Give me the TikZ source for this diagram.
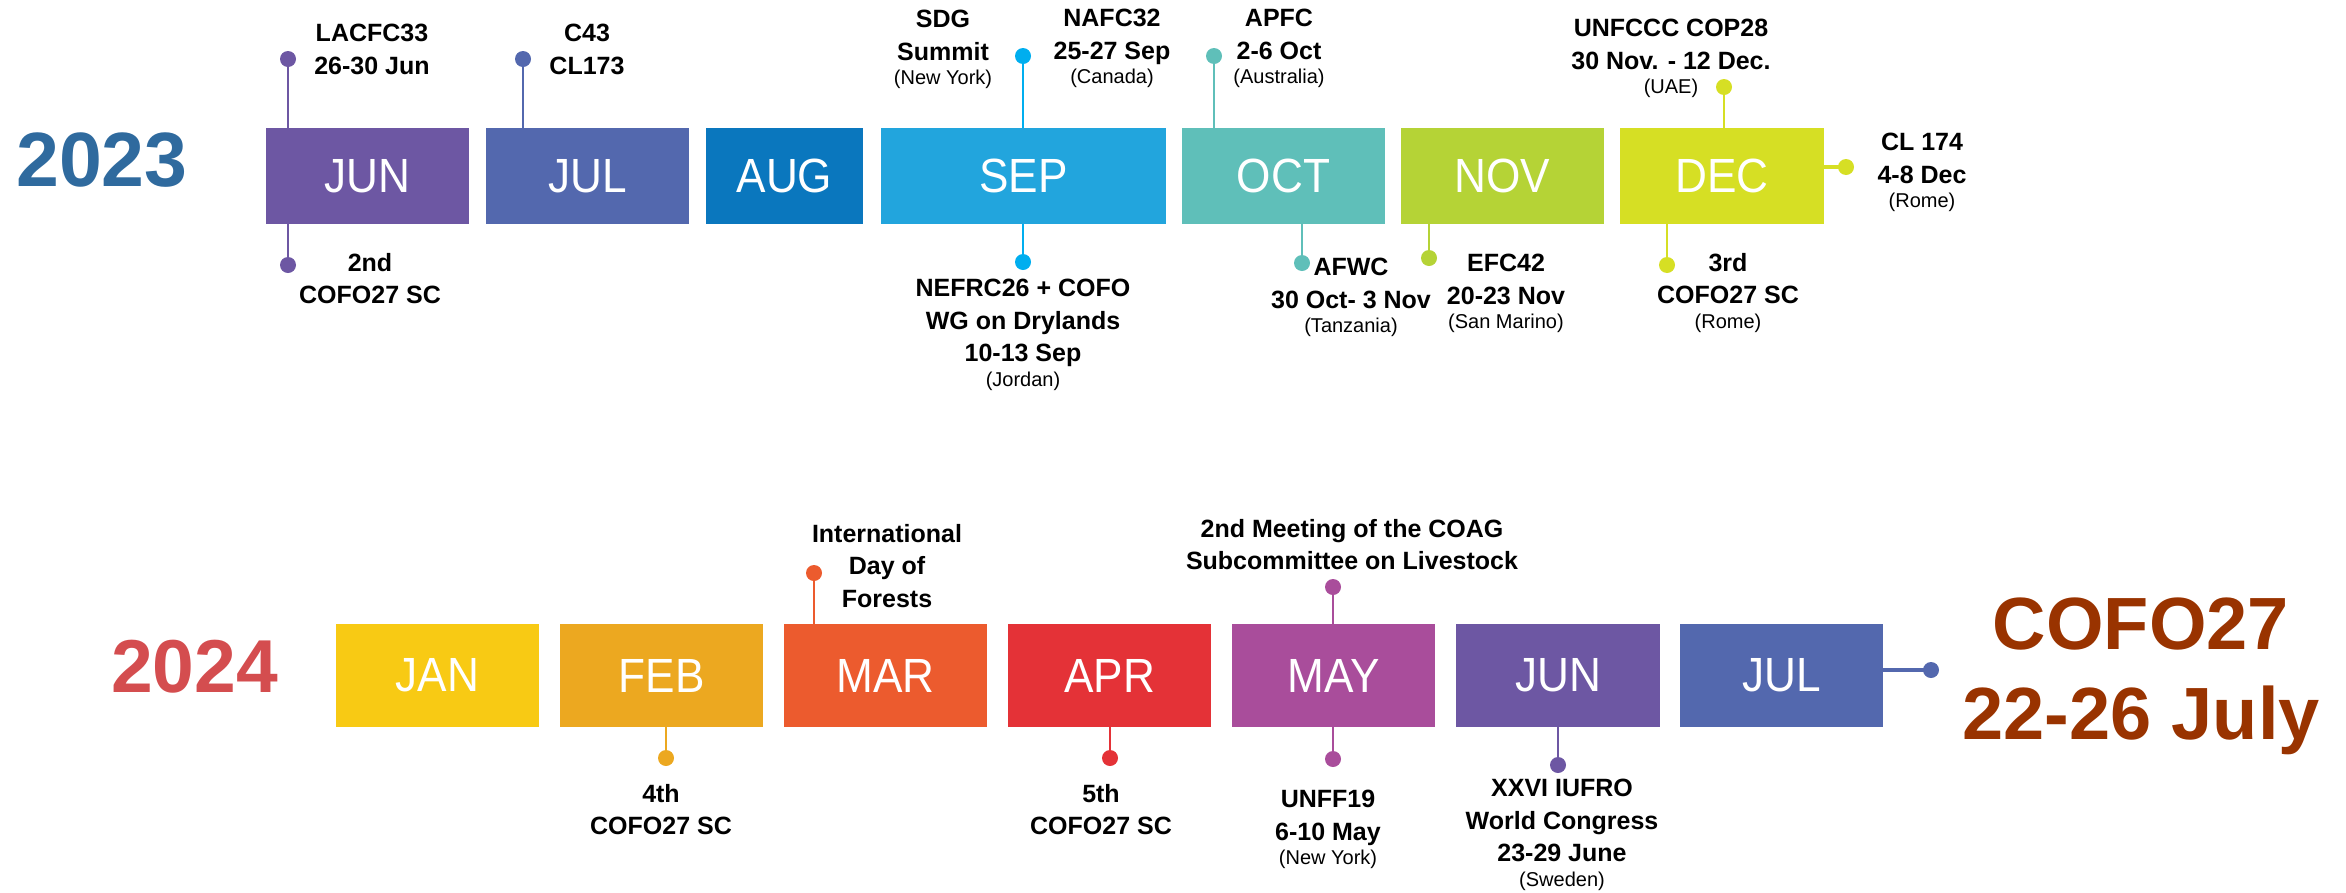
\documentclass[tikz,border=0pt]{standalone}
\usepackage{fontspec}
\setmainfont{Liberation Sans}
\newfontfamily\monthfont{Liberation Sans}[FakeStretch=0.92]
\definecolor{cJun}{HTML}{6D57A3}
\definecolor{cJul}{HTML}{5368AE}
\definecolor{cAug}{HTML}{0A77BE}
\definecolor{cSep}{HTML}{22A5DD}
\definecolor{cSepDot}{HTML}{00AEEF}
\definecolor{cOct}{HTML}{5FBFB9}
\definecolor{cNov}{HTML}{B5D336}
\definecolor{cDec}{HTML}{D6DF24}
\definecolor{cJan}{HTML}{F8CA14}
\definecolor{cFeb}{HTML}{ECA820}
\definecolor{cMar}{HTML}{EC5B2E}
\definecolor{cApr}{HTML}{E43237}
\definecolor{cMay}{HTML}{A94D9B}
\definecolor{cYa}{HTML}{2F6A9E}
\definecolor{cYb}{HTML}{D44D4F}
\definecolor{cCofo}{HTML}{993300}
\newcommand\locn[1]{{\mdseries\fontsize{20}{24}\selectfont #1}}
\tikzset{
  month/.style={minimum width=203pt, minimum height=96pt, inner sep=0pt, text=white,
    fill=#1, font=\monthfont\fontsize{48}{50}\selectfont},
  yearlbl/.style={inner sep=0pt, font=\bfseries\fontsize{77}{80}\selectfont},
  lbl/.style={align=center, anchor=north, inner sep=0pt, font=\bfseries\fontsize{25}{32.5}\selectfont},
  evdot/.style={circle, fill=#1, inner sep=0pt, minimum size=16pt},
  conn/.style={line width=2.5pt, draw=#1},
  hconn/.style={line width=4pt, draw=#1},
}
\begin{document}
\begin{tikzpicture}[x=1pt,y=-1pt]
\useasboundingbox (0,0) rectangle (2346,892);
% ---------- 2023 ----------
\node[yearlbl, text=cYa] (y23) at (102,160.5) {2023};
\node[month=cJun] (jun23) at (367.5,176) {JUN};
\node[month=cJul] (jul23) at (587.5,176) {JUL};
\node[month=cAug, minimum width=157pt] (aug23) at (784.5,176) {AUG};
\node[month=cSep, minimum width=285pt] (sep23) at (1023.5,176) {SEP};
\node[month=cOct] (oct23) at (1283.5,176) {OCT};
\node[month=cNov] (nov23) at (1502.5,176) {NOV};
\node[month=cDec, minimum width=204pt] (dec23) at (1722,176) {DEC};

\coordinate (p1) at (288,59);
\coordinate (p2) at (288,265);
\coordinate (p3) at (523,59);
\coordinate (p4) at (1023,56);
\coordinate (p5) at (1023,262);
\coordinate (p6) at (1214,56);
\coordinate (p7) at (1302,263);
\coordinate (p8) at (1429,258);
\coordinate (p9) at (1724,87);
\coordinate (p10) at (1846,167);
\coordinate (p11) at (1667,265);

\draw[conn=cJun] (jun23.north -| p1) -- (p1);
\draw[conn=cJun] (jun23.south -| p2) -- (p2);
\draw[conn=cJul] (jul23.north -| p3) -- (p3);
\draw[conn=cSepDot] (sep23.north -| p4) -- (p4);
\draw[conn=cSepDot] (sep23.south -| p5) -- (p5);
\draw[conn=cOct] (oct23.north -| p6) -- (p6);
\draw[conn=cOct] (oct23.south -| p7) -- (p7);
\draw[conn=cNov] (nov23.south -| p8) -- (p8);
\draw[conn=cDec] (dec23.north -| p9) -- (p9);
\draw[hconn=cDec] (dec23.east |- p10) -- (p10);
\draw[conn=cDec] (dec23.south -| p11) -- (p11);

\node[evdot=cJun] (d1) at (p1) {};
\node[evdot=cJun] (d2) at (p2) {};
\node[evdot=cJul] (d3) at (p3) {};
\node[evdot=cSepDot] (d4) at (p4) {};
\node[evdot=cSepDot] (d5) at (p5) {};
\node[evdot=cOct] (d6) at (p6) {};
\node[evdot=cOct] (d7) at (p7) {};
\node[evdot=cNov] (d8) at (p8) {};
\node[evdot=cDec] (d9) at (p9) {};
\node[evdot=cDec] (d10) at (p10) {};
\node[evdot=cDec] (d11) at (p11) {};

\node[lbl] (l1) at (372,24) {LACFC33\\26-30 Jun};
\node[lbl] (l2) at (370,253) {2nd\\COFO27 SC};
\node[lbl] (l3) at (587,24) {C43\\CL173};
\node[lbl] (l4) at (943,10) {SDG\\Summit\\[-8pt]\locn{(New York)}};
\node[lbl] (l5) at (1112,9) {NAFC32\\25-27 Sep\\[-8pt]\locn{(Canada)}};
\node[lbl] (l6) at (1023,279) {NEFRC26 + COFO\\WG on Drylands\\10-13 Sep\\[-8pt]\locn{(Jordan)}};
\node[lbl] (l7) at (1279,9) {APFC\\2-6 Oct\\[-8pt]\locn{(Australia)}};
\node[lbl] (l8) at (1351,258) {AFWC\\30 Oct- 3 Nov\\[-8pt]\locn{(Tanzania)}};
\node[lbl] (l9) at (1506,254) {EFC42\\20-23 Nov\\[-8pt]\locn{(San Marino)}};
\node[lbl] (l10) at (1671,19) {UNFCCC COP28\\30 Nov. - 12 Dec.\\[-8pt]\locn{(UAE)}};
\node[lbl] (l11) at (1922,133) {CL 174\\4-8 Dec\\[-8pt]\locn{(Rome)}};
\node[lbl] (l12) at (1728,253) {3rd\\COFO27 SC\\[-8pt]\locn{(Rome)}};

% ---------- 2024 ----------
\node[yearlbl, text=cYb, font=\bfseries\fontsize{75}{80}\selectfont] (y24) at (194.5,666.5) {2024};
\node[month=cJan, minimum height=103pt] (jan24) at (437.5,675.5) {JAN};
\node[month=cFeb, minimum height=103pt] (feb24) at (661.5,675.5) {FEB};
\node[month=cMar, minimum height=103pt] (mar24) at (885.5,675.5) {MAR};
\node[month=cApr, minimum height=103pt] (apr24) at (1109.5,675.5) {APR};
\node[month=cMay, minimum height=103pt] (may24) at (1333.5,675.5) {MAY};
\node[month=cJun, minimum height=103pt, minimum width=204pt] (jun24) at (1558,675.5) {JUN};
\node[month=cJul, minimum height=103pt] (jul24) at (1781.5,675.5) {JUL};

\coordinate (q1) at (666,758);
\coordinate (q2) at (814,573);
\coordinate (q3) at (1110,758);
\coordinate (q4) at (1333,587);
\coordinate (q5) at (1333,759);
\coordinate (q6) at (1558,765);
\coordinate (q7) at (1931,670);

\draw[conn=cFeb] (feb24.south -| q1) -- (q1);
\draw[conn=cMar] (mar24.north -| q2) -- (q2);
\draw[conn=cApr] (apr24.south -| q3) -- (q3);
\draw[conn=cMay] (may24.north -| q4) -- (q4);
\draw[conn=cMay] (may24.south -| q5) -- (q5);
\draw[conn=cJun] (jun24.south -| q6) -- (q6);
\draw[hconn=cJul] (jul24.east |- q7) -- (q7);

\node[evdot=cFeb] (e1) at (q1) {};
\node[evdot=cMar] (e2) at (q2) {};
\node[evdot=cApr] (e3) at (q3) {};
\node[evdot=cMay] (e4) at (q4) {};
\node[evdot=cMay] (e5) at (q5) {};
\node[evdot=cJun] (e6) at (q6) {};
\node[evdot=cJul] (e7) at (q7) {};

\node[lbl] (m1) at (661,784) {4th\\COFO27 SC};
\node[lbl] (m2) at (887,524) {International\\Day of\\Forests};
\node[lbl] (m3) at (1101,784) {5th\\COFO27 SC};
\node[lbl] (m4) at (1352,519) {2nd Meeting of the COAG\\Subcommittee on Livestock};
\node[lbl] (m5) at (1328,790) {UNFF19\\6-10 May\\[-8pt]\locn{(New York)}};
\node[lbl] (m6) at (1562,779) {XXVI IUFRO\\World Congress\\23-29 June\\[-8pt]\locn{(Sweden)}};

\node[lbl, text=cCofo, font=\bfseries\fontsize{74}{90}\selectfont] (cofo) at (2141,598) {COFO27\\22-26 July};
\end{tikzpicture}
\end{document}
